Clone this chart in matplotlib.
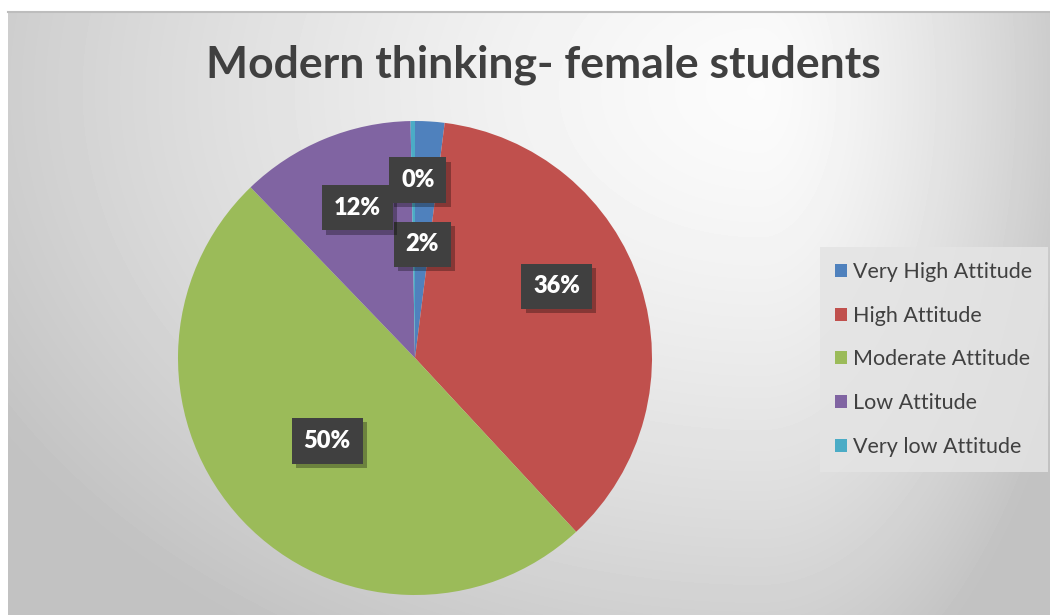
import numpy as np
import matplotlib
matplotlib.use("Agg")
import matplotlib.pyplot as plt
import matplotlib.patheffects as pe

categories = ["Very High Attitude", "High Attitude", "Moderate Attitude", "Low Attitude", "Very low Attitude"]
values = [2.0, 36.1, 49.7, 11.9, 0.3]
display_pct = ["2%", "36%", "50%", "12%", "0%"]
colors = ["#4f81bd", "#c0504d", "#9bbb59", "#8064a2", "#4bacc6"]
title = "Modern thinking- female students"

# label placement style (radial distance, angular shift in degrees)
label_r = [0.48, 0.67, 0.51, 0.68, 0.75]
label_shift = [0, 9, 0, -1.5, -1.5]

W, H = 1050, 615
fig = plt.figure(figsize=(W / 100, H / 100), dpi=100)
fig.patch.set_facecolor("white")

# background gradient panel
bx0, by_top = 8, 12
bg = fig.add_axes([bx0 / W, 0, 1 - bx0 / W, 1 - by_top / H])
bg.set_axis_off()
ys, xs = np.mgrid[by_top:H, bx0:W]
cx, cy = 760.0, 90.0
sx = np.where(xs < cx, 850.0, 320.0)
d = np.sqrt(((xs - cx) / sx) ** 2 + ((ys - cy) / 620.0) ** 2)
d = np.clip(d, 0, 1.2) ** 1.4
val = np.clip(0.985 - 0.21 * d, 0.76, 1.0)
bg.imshow(val, cmap="gray", vmin=0, vmax=1, aspect="auto", interpolation="bilinear")
fig.add_artist(plt.Line2D([bx0 / W, 1], [1 - by_top / H, 1 - by_top / H],
                          transform=fig.transFigure, color="#bdbdbd", lw=1.5))

fig.text(543 / W, 1 - 65 / H, title, ha="center", va="center",
         fontsize=32, fontweight="bold", family="Lato", color="#404040")

# pie
pcx, pcy, R = 415, 358, 237
ax = fig.add_axes([(pcx - R) / W, (H - pcy - R) / H, 2 * R / W, 2 * R / H])
wedges, _ = ax.pie(values, colors=colors, startangle=90, counterclock=False,
                   wedgeprops=dict(linewidth=0))
ax.set_xlim(-1, 1)
ax.set_ylim(-1, 1)

for w, lab, r, sh in zip(wedges, display_pct, label_r, label_shift):
    mid = np.deg2rad((w.theta1 + w.theta2) / 2 + sh)
    t = ax.text(r * np.cos(mid), r * np.sin(mid), lab, ha="center", va="center",
                fontsize=17, fontweight="heavy", family="Lato", color="white",
                bbox=dict(boxstyle="square,pad=0.5", fc="#404040", ec="none"))
    t.get_bbox_patch().set_path_effects([
        pe.SimplePatchShadow(offset=(3, -3), shadow_rgbFace="black", alpha=0.3),
        pe.Normal()])

leg = fig.legend(wedges, categories, loc="upper left",
                 bbox_to_anchor=(820 / W, 1 - 247 / H),
                 frameon=True, fancybox=False,
                 prop=dict(family="Lato", size=15.5),
                 handlelength=0.55, handleheight=0.55, handletextpad=0.3,
                 labelspacing=1.1, borderpad=0.7, borderaxespad=0)
leg.get_frame().set_facecolor("#e4e4e4")
leg.get_frame().set_edgecolor("none")
leg.get_frame().set_alpha(0.85)
for txt in leg.get_texts():
    txt.set_color("#404040")

fig.savefig("out.png", dpi=100)
